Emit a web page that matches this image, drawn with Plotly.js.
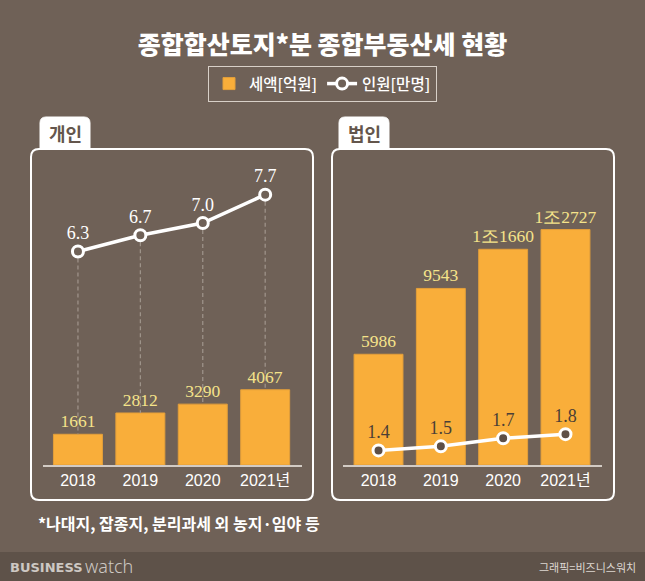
<!DOCTYPE html>
<html>
<head>
<meta charset="utf-8">
<script src="https://cdn.plot.ly/plotly-3.0.1.min.js"></script>
<style>
  html, body { margin: 0; padding: 0; background: #6f6157; }
  #chart { width: 645px; height: 581px; }
</style>
</head>
<body>
<div id="chart"></div>
<script>
// ---- data ----
const years = ['2018', '2019', '2020', '2021년'];
const indivTax = [1661, 2812, 3290, 4067];      // 개인 세액 [억원]
const indivPeople = [6.3, 6.7, 7.0, 7.7];        // 개인 인원 [만명]
const corpTax = [5986, 9543, 11660, 12727];      // 법인 세액 [억원]
const corpPeople = [1.4, 1.5, 1.7, 1.8];         // 법인 인원 [만명]

const chartTitle = '종합합산토지*분 종합부동산세 현황';
const seriesNames = ['세액[억원]', '인원[만명]'];
const panelNames = ['개인', '법인'];
const footnote = '*나대지, 잡종지, 분리과세 외 농지·임야 등';
const credit = '그래픽=비즈니스워치';

// ---- style / geometry ----
const W = 645, H = 581;
const BG = '#6f6157';
const BAR = '#f9ae3a';
const X = p => p / W;
const Y = p => 1 - p / H;
const barRange = [0, 17027];
const lineRange = [1.04, 8.80];
const yDom = [Y(465), Y(150)];

function fmtTax(v) {
  if (v >= 10000) return Math.floor(v / 10000) + '조' + (v % 10000);
  return String(v);
}
function toLineUnits(v) {
  return lineRange[0] + (v / barRange[1]) * (lineRange[1] - lineRange[0]);
}
function roundRect(x0, y0, x1, y1, r) {
  return `M${X(x0 + r)},${Y(y0)} L${X(x1 - r)},${Y(y0)} Q${X(x1)},${Y(y0)} ${X(x1)},${Y(y0 + r)} ` +
         `L${X(x1)},${Y(y1 - r)} Q${X(x1)},${Y(y1)} ${X(x1 - r)},${Y(y1)} ` +
         `L${X(x0 + r)},${Y(y1)} Q${X(x0)},${Y(y1)} ${X(x0)},${Y(y1 - r)} ` +
         `L${X(x0)},${Y(y0 + r)} Q${X(x0)},${Y(y0)} ${X(x0 + r)},${Y(y0)} Z`;
}
function tabPath(x0, y0, x1, y1, r) {
  return `M${X(x0)},${Y(y1)} L${X(x0)},${Y(y0 + r)} Q${X(x0)},${Y(y0)} ${X(x0 + r)},${Y(y0)} ` +
         `L${X(x1 - r)},${Y(y0)} Q${X(x1)},${Y(y0)} ${X(x1)},${Y(y0 + r)} L${X(x1)},${Y(y1)} Z`;
}

const serif = 'Liberation Serif, DejaVu Serif, serif';
const kr = 'Noto Sans CJK KR, sans-serif';

const traces = [];

// dashed guides (개인): from line marker down to bar top
years.forEach((yr, i) => {
  traces.push({
    type: 'scatter', mode: 'lines', x: [yr, yr],
    y: [indivPeople[i], toLineUnits(indivTax[i])],
    xaxis: 'x', yaxis: 'y2',
    line: { color: '#a0958c', width: 1.2, dash: '4px,3px' },
    showlegend: false, hoverinfo: 'skip'
  });
});

// 개인 bars
traces.push({
  type: 'bar', name: seriesNames[0], x: years, y: indivTax,
  xaxis: 'x', yaxis: 'y', width: 0.785,
  marker: { color: BAR, line: { color: '#e39f3a', width: 1 } },
  text: indivTax.map(fmtTax), textposition: 'outside', constraintext: 'none',
  cliponaxis: false,
  textfont: { family: serif, size: 17.5, color: '#f5e38a' },
  showlegend: true, legendrank: 1, hoverinfo: 'skip'
});
// 개인 line
traces.push({
  type: 'scatter', mode: 'lines+markers+text', name: seriesNames[1],
  x: years, y: indivPeople, xaxis: 'x', yaxis: 'y2',
  line: { color: '#ffffff', width: 3.5 },
  marker: { size: 11, color: BG, line: { color: '#ffffff', width: 3 } },
  text: indivPeople.map(v => v.toFixed(1)), textposition: 'top center',
  textfont: { family: serif, size: 18, color: '#ffffff' },
  cliponaxis: false, showlegend: true, legendrank: 2, hoverinfo: 'skip'
});
// 법인 bars
traces.push({
  type: 'bar', name: seriesNames[0], x: years, y: corpTax,
  xaxis: 'x2', yaxis: 'y3', width: 0.785,
  marker: { color: BAR, line: { color: '#e39f3a', width: 1 } },
  text: corpTax.map(fmtTax), textposition: 'outside', constraintext: 'none',
  cliponaxis: false,
  textfont: { family: serif, size: 17.5, color: '#f5e38a' },
  showlegend: false, hoverinfo: 'skip'
});
// 법인 line
traces.push({
  type: 'scatter', mode: 'lines+markers+text', name: seriesNames[1],
  x: years, y: corpPeople, xaxis: 'x2', yaxis: 'y4',
  line: { color: '#ffffff', width: 3.5 },
  marker: { size: 11, color: '#5e4f46', line: { color: '#ffffff', width: 3 } },
  text: corpPeople.map(v => v.toFixed(1)), textposition: 'top center',
  textfont: { family: serif, size: 18, color: '#4b3f36' },
  cliponaxis: false, showlegend: false, hoverinfo: 'skip'
});

const xBase = {
  type: 'category', showgrid: false, zeroline: false, ticks: '',
  showline: true, linecolor: '#d2cbc4', linewidth: 1.5,
  tickfont: { family: 'Liberation Sans, ' + kr, size: 16, color: '#ffffff' },
  fixedrange: true
};
const yBase = { showgrid: false, zeroline: false, showticklabels: false, ticks: '', fixedrange: true };

const layout = {
  width: W, height: H,
  margin: { l: 0, r: 0, t: 0, b: 0 },
  paper_bgcolor: BG, plot_bgcolor: 'rgba(0,0,0,0)',
  title: {
    text: chartTitle, x: 0.5, xanchor: 'center', y: Y(45), yanchor: 'middle',
    font: { family: kr, size: 25, color: '#ffffff', weight: 900 }
  },
  showlegend: true,
  legend: {
    orientation: 'h', x: 0.5, xanchor: 'center', y: Y(66), yanchor: 'top',
    bgcolor: 'rgba(0,0,0,0)', bordercolor: '#d8d0c8', borderwidth: 1,
    font: { family: kr, size: 15.5, color: '#ffffff', weight: 500 },
    itemwidth: 30, traceorder: 'normal'
  },
  xaxis: Object.assign({}, xBase, { domain: [X(43), X(302)], range: [-0.56, 3.59], anchor: 'y' }),
  xaxis2: Object.assign({}, xBase, { domain: [X(343), X(602)], range: [-0.57, 3.586], anchor: 'y3' }),
  yaxis: Object.assign({}, yBase, { domain: yDom, range: barRange, anchor: 'x' }),
  yaxis2: Object.assign({}, yBase, { domain: yDom, range: lineRange, overlaying: 'y', anchor: 'x' }),
  yaxis3: Object.assign({}, yBase, { domain: yDom, range: barRange, anchor: 'x2' }),
  yaxis4: Object.assign({}, yBase, { domain: yDom, range: lineRange, overlaying: 'y3', anchor: 'x2' }),
  bargap: 0.2,
  shapes: [
    // footer band
    { type: 'rect', xref: 'paper', yref: 'paper', x0: 0, x1: 1, y0: 0, y1: Y(552),
      fillcolor: '#5e5249', line: { width: 0 }, layer: 'below' },
    // panels
    { type: 'path', xref: 'paper', yref: 'paper', path: roundRect(31, 149, 313, 500, 8),
      line: { color: '#ffffff', width: 2 }, fillcolor: 'rgba(0,0,0,0)', layer: 'below' },
    { type: 'path', xref: 'paper', yref: 'paper', path: roundRect(332, 149, 614, 500, 8),
      line: { color: '#ffffff', width: 2 }, fillcolor: 'rgba(0,0,0,0)', layer: 'below' },
    // tabs
    { type: 'path', xref: 'paper', yref: 'paper', path: tabPath(40, 117, 90, 149, 6),
      line: { color: '#ffffff', width: 1 }, fillcolor: '#ffffff', layer: 'below' },
    { type: 'path', xref: 'paper', yref: 'paper', path: tabPath(339, 117, 389, 149, 6),
      line: { color: '#ffffff', width: 1 }, fillcolor: '#ffffff', layer: 'below' }
  ],
  annotations: [
    { text: panelNames[0], xref: 'paper', yref: 'paper', x: X(65), y: Y(133),
      xanchor: 'center', yanchor: 'middle', showarrow: false,
      font: { family: kr, size: 18, color: '#64564c', weight: 700 } },
    { text: panelNames[1], xref: 'paper', yref: 'paper', x: X(364), y: Y(133),
      xanchor: 'center', yanchor: 'middle', showarrow: false,
      font: { family: kr, size: 18, color: '#64564c', weight: 700 } },
    { text: footnote, xref: 'paper', yref: 'paper', x: X(36), y: Y(523),
      xanchor: 'left', yanchor: 'middle', showarrow: false,
      font: { family: kr, size: 16, color: '#ffffff', weight: 700 } },
    { text: 'BUSINESS', xref: 'paper', yref: 'paper', x: X(8), y: Y(567),
      xanchor: 'left', yanchor: 'middle', showarrow: false,
      font: { family: 'DejaVu Sans, sans-serif', size: 13, color: '#cdc8c3', weight: 900 } },
    { text: 'watch', xref: 'paper', yref: 'paper', x: X(83), y: Y(566),
      xanchor: 'left', yanchor: 'middle', showarrow: false,
      font: { family: 'Noto Sans, sans-serif', size: 18, color: '#cdc8c3', weight: 300 } },
    { text: credit, xref: 'paper', yref: 'paper', x: X(638), y: Y(567),
      xanchor: 'right', yanchor: 'middle', showarrow: false,
      font: { family: kr, size: 11, color: '#ddd7d1' } }
  ]
};

Plotly.newPlot('chart', traces, layout, { displayModeBar: false, staticPlot: true });
</script>
</body>
</html>
